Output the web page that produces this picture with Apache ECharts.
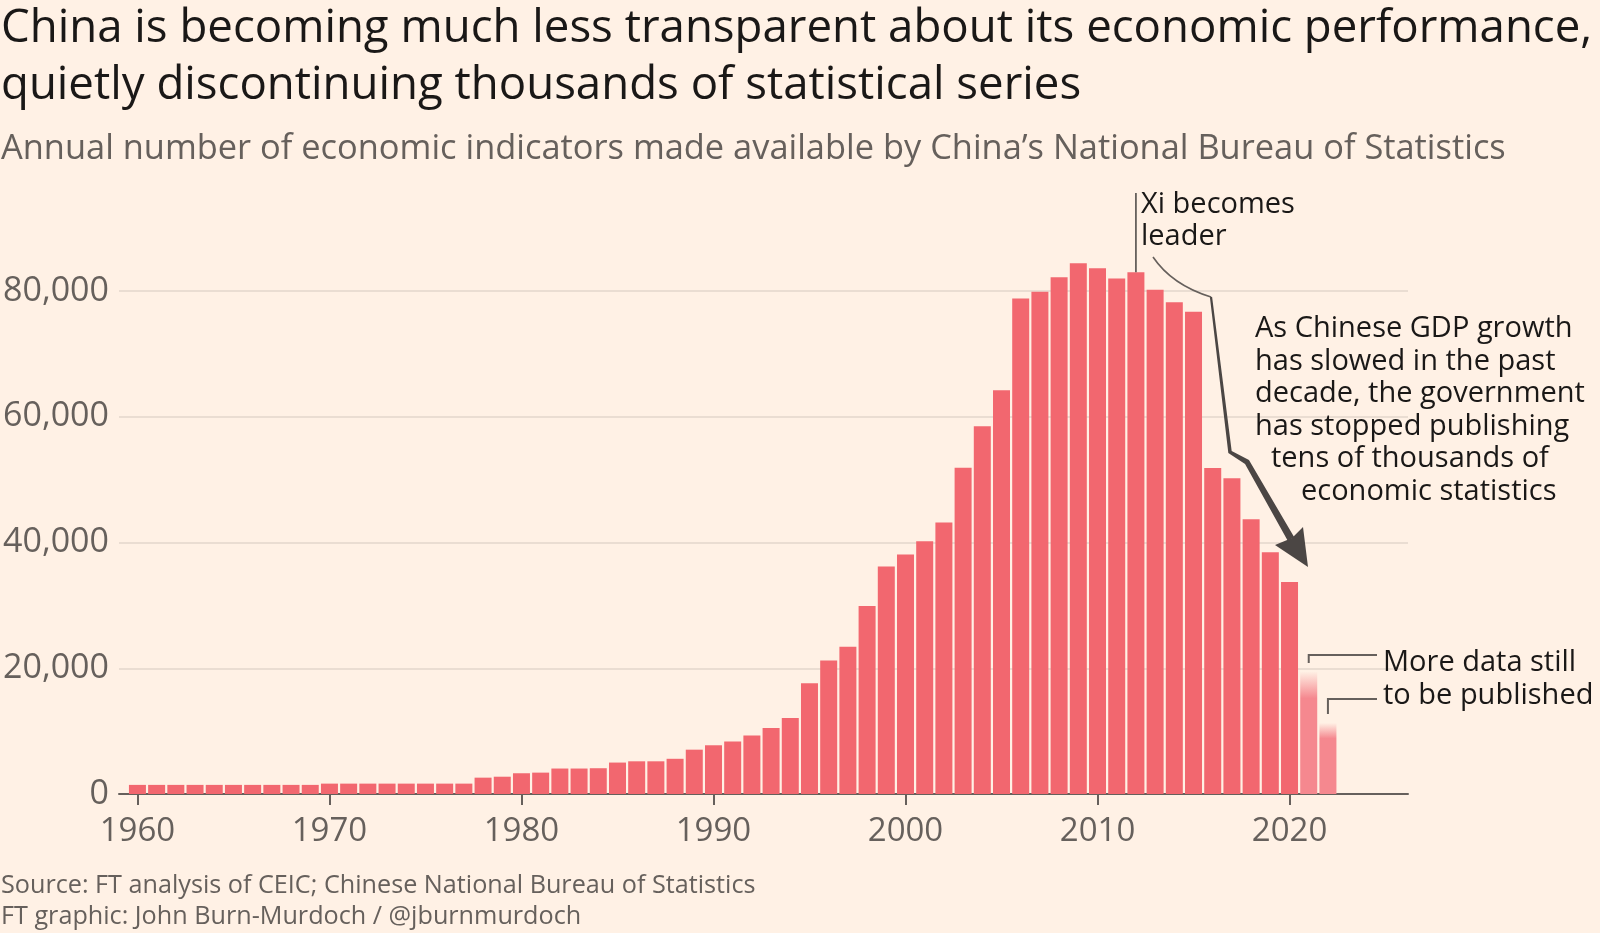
<!DOCTYPE html>
<html>
<head>
<meta charset="utf-8">
<script src="https://cdn.jsdelivr.net/npm/echarts@6/dist/echarts.min.js"></script>
<style>
html,body{margin:0;padding:0;background:#fff1e5;}
#c{width:1600px;height:933px;}
</style>
</head>
<body>
<div id="c"></div>
<script>
// ---- data ----
const years = [1960,1961,1962,1963,1964,1965,1966,1967,1968,1969,
               1970,1971,1972,1973,1974,1975,1976,1977,1978,1979,
               1980,1981,1982,1983,1984,1985,1986,1987,1988,1989,
               1990,1991,1992,1993,1994,1995,1996,1997,1998,1999,
               2000,2001,2002,2003,2004,2005,2006,2007,2008,2009,
               2010,2011,2012,2013,2014,2015,2016,2017,2018,2019,2020];
const counts = [1450,1450,1450,1450,1450,1450,1450,1450,1450,1450,
                1650,1650,1650,1650,1650,1650,1650,1650,2600,2750,
                3300,3400,4050,4050,4100,5000,5200,5200,5600,7050,
                7750,8350,9300,10500,12100,17600,21250,23400,29900,36200,
                38100,40200,43200,51900,58500,64200,78800,79900,82200,84400,
                83600,82000,83000,80200,78200,76700,51850,50200,43700,38450,33700];
const provisionalYears = [2021, 2022];
const provisionalCounts = [19500, 11300];
const xTickLabels = [1960,1970,1980,1990,2000,2010,2020];
const xiYear = 2012;

const titleLines = ['China is becoming much less transparent about its economic performance,',
                    'quietly discontinuing thousands of statistical series'];
const subtitle = 'Annual number of economic indicators made available by China\u2019s National Bureau of Statistics';
const sourceLines = ['Source: FT analysis of CEIC; Chinese National Bureau of Statistics',
                     'FT graphic: John Burn-Murdoch / @jburnmurdoch'];
const xiNote = ['Xi becomes', 'leader'];
const gdpNote = ['As Chinese GDP growth', 'has slowed in the past', 'decade, the government',
                 'has stopped publishing', 'tens of thousands of', 'economic statistics'];
const moreNote = ['More data still', 'to be published'];

// ---- styling ----
const FONT = '"Open Sans", sans-serif';
const INK = '#1a1817';
const GREY = '#66605c';
const BAR = '#f2676f';
const FADE = '#f5888f';

const chart = echarts.init(document.getElementById('c'));

const barData = years.map((y, i) => [y, counts[i]]);
provisionalYears.forEach((y, i) => {
  barData.push({
    value: [y, provisionalCounts[i]],
    itemStyle: {
      color: new echarts.graphic.LinearGradient(0, 0, 0, 1, [
        {offset: 0, color: 'rgba(245,136,143,0)'},
        {offset: 0.22, color: FADE},
        {offset: 1, color: FADE}
      ])
    }
  });
});

function txt(text, x, y, size, color, align) {
  return {
    type: 'text', silent: true, z: 10,
    style: {
      text: text, x: x, y: y,
      fill: color,
      font: size + 'px ' + FONT,
      fontSize: size, fontFamily: FONT,
      textAlign: align || 'left', align: align || 'left',
      textVerticalAlign: 'middle', verticalAlign: 'middle'
    }
  };
}

chart.setOption({
  backgroundColor: '#fff1e5',
  animation: false,
  grid: {left: 118, right: 192, top: 291, bottom: 139},
  xAxis: {
    type: 'value', min: 1959.04, max: 2026.17,
    axisLine: {show: true, onZero: false, lineStyle: {color: GREY, width: 2}},
    axisTick: {show: true, length: 11, customValues: xTickLabels, lineStyle: {color: GREY, width: 2}},
    axisLabel: {customValues: xTickLabels, color: GREY, fontFamily: FONT, fontSize: 33, margin: 21,
                formatter: v => String(v)},
    splitLine: {show: false}
  },
  yAxis: {
    type: 'value', min: 0, max: 80000, interval: 20000,
    axisLine: {show: false}, axisTick: {show: false},
    axisLabel: {color: GREY, fontFamily: FONT, fontSize: 34, margin: 10,
                formatter: v => v.toLocaleString('en-US')},
    splitLine: {lineStyle: {color: '#e3d6cb', width: 1.5}}
  },
  series: [{
    type: 'bar', data: barData, barWidth: 17, clip: false,
    itemStyle: {color: BAR}, z: 2
  }]
});

// ---- annotations (positioned from the chart's own scales where anchored to data) ----
const xiTop = chart.convertToPixel({gridIndex: 0}, [xiYear, counts[years.indexOf(xiYear)]]);
const p21 = chart.convertToPixel({gridIndex: 0}, [provisionalYears[0], provisionalCounts[0]]);
const p22 = chart.convertToPixel({gridIndex: 0}, [provisionalYears[1], provisionalCounts[1]]);

function taper(pts, widths) {
  const left = [], right = [];
  for (let i = 0; i < pts.length; i++) {
    let nx = 0, ny = 0;
    if (i > 0) {
      const dx = pts[i][0] - pts[i-1][0], dy = pts[i][1] - pts[i-1][1];
      const l = Math.hypot(dx, dy); nx += -dy / l; ny += dx / l;
    }
    if (i < pts.length - 1) {
      const dx = pts[i+1][0] - pts[i][0], dy = pts[i+1][1] - pts[i][1];
      const l = Math.hypot(dx, dy); nx += -dy / l; ny += dx / l;
    }
    const l = Math.hypot(nx, ny); nx /= l; ny /= l;
    const h = widths[i] / 2;
    left.push([pts[i][0] + nx * h, pts[i][1] + ny * h]);
    right.push([pts[i][0] - nx * h, pts[i][1] - ny * h]);
  }
  return left.concat(right.reverse());
}

const arrowColor = '#4b4644';
const graphics = [];
titleLines.forEach((t, i) => graphics.push(txt(t, 1, 29 + i * 57, 45.6, INK)));
graphics.push(txt(subtitle, 1, 149.5, 34.4, GREY));
sourceLines.forEach((t, i) => graphics.push(txt(t, 1, 885.5 + i * 31.5, 25.2, GREY)));

// Xi line
graphics.push({type: 'line', silent: true, z: 5,
  shape: {x1: xiTop[0], y1: 193, x2: xiTop[0], y2: xiTop[1]},
  style: {stroke: GREY, lineWidth: 1.8}});
xiNote.forEach((t, i) => graphics.push(txt(t, 1141, 205 + i * 32, 29, INK)));

// thin curve then thick tapering arrow
graphics.push({type: 'bezierCurve', silent: true, z: 5,
  shape: {x1: 1153, y1: 257, x2: 1211, y2: 297, cpx1: 1172, cpy1: 285},
  style: {stroke: GREY, lineWidth: 1.6, fill: null}});
graphics.push({type: 'polygon', silent: true, z: 5,
  shape: {points: taper([[1211, 297], [1230, 452], [1247, 462], [1291, 539]], [2.2, 4, 5.5, 7.5])},
  style: {fill: arrowColor}});
graphics.push({type: 'polygon', silent: true, z: 5,
  shape: {points: [[1275, 545], [1308, 567], [1303, 527], [1292, 538]]},
  style: {fill: arrowColor}});
const gdpX = [1255, 1255, 1255, 1255, 1271, 1301];
gdpNote.forEach((t, i) => graphics.push(txt(t, gdpX[i], 329 + i * 32.5, 29, INK)));

// "more data" brackets
graphics.push({type: 'polyline', silent: true, z: 5,
  shape: {points: [[p21[0], 663], [p21[0], 655], [1377, 655]]},
  style: {stroke: GREY, lineWidth: 2, fill: null}});
graphics.push({type: 'polyline', silent: true, z: 5,
  shape: {points: [[p22[0], 714], [p22[0], 699], [1377, 699]]},
  style: {stroke: GREY, lineWidth: 2, fill: null}});
moreNote.forEach((t, i) => graphics.push(txt(t, 1383, 663 + i * 32.5, 29, INK)));

chart.setOption({graphic: graphics});
</script>
</body>
</html>
